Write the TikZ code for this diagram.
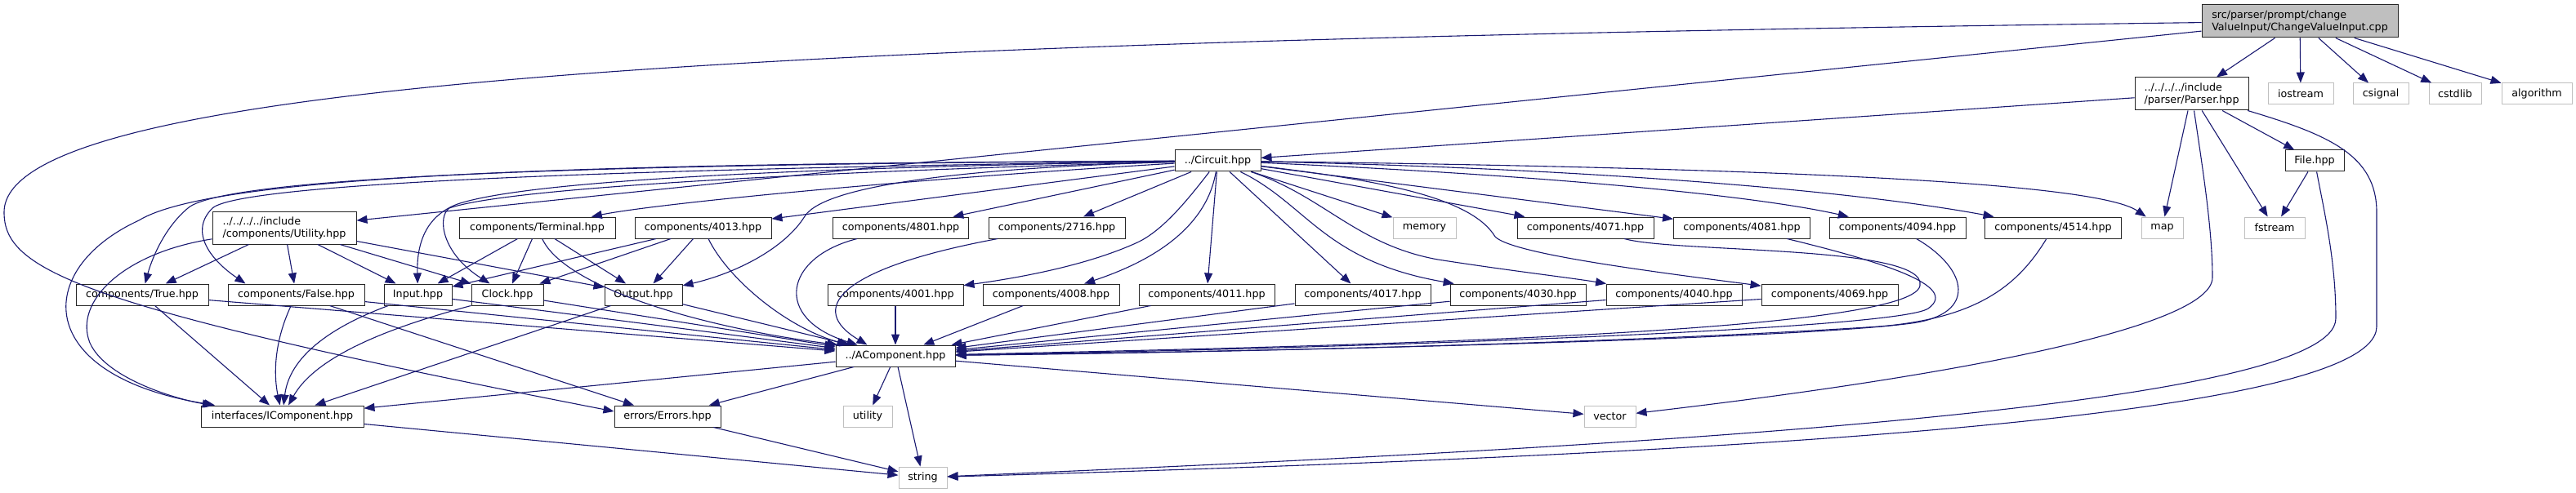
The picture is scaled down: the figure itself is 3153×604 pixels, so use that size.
\documentclass[tikz,border=0pt]{standalone}
\usepackage{fontspec}
\setmainfont{DejaVu Sans}
\usetikzlibrary{arrows.meta}
\definecolor{edgecol}{HTML}{191970}
\definecolor{sysgray}{HTML}{BFBFBF}
\begin{document}
\begin{tikzpicture}[x=1pt,y=-1pt,
  box/.style={draw=black!85, line width=1.0pt, fill=white, inner sep=0pt, minimum height=26pt, font=\fontsize{12.7}{15}\selectfont, text=black, align=left},
  sys/.style={box, draw=sysgray},
  dep/.style={draw=edgecol, line width=1.1pt, -{Triangle[length=13pt,width=10pt]}},
]
\useasboundingbox (0,0) rectangle (3153,604);
% rank 0
\node[box, fill=sysgray, minimum width=240pt, minimum height=40pt] (main) at (2815,26) {src/parser/prompt/change\\ValueInput/ChangeValueInput.cpp};
% rank 1
\node[box, minimum width=139pt, minimum height=40pt] (parser) at (2682.5,115) {../../../../include\\/parser/Parser.hpp};
\node[sys, minimum width=80pt] (iostream) at (2816,115) {iostream};
\node[sys, minimum width=68pt] (csignal) at (2914,115) {csignal};
\node[sys, minimum width=64pt] (cstdlib) at (3005,115) {cstdlib};
\node[sys, minimum width=86pt] (algorithm) at (3105,115) {algorithm};
% rank 2
\node[box, minimum width=105pt] (circuit) at (1490.5,197) {../Circuit.hpp};
\node[box, minimum width=72pt] (file) at (2833,197) {File.hpp};
% rank 3
\node[box, minimum width=176pt, minimum height=40pt] (utilityh) at (348,279) {../../../../include\\/components/Utility.hpp};
\node[box, minimum width=191pt] (terminal) at (657.5,279) {components/Terminal.hpp};
\node[box, minimum width=167pt] (c4013) at (860.5,279) {components/4013.hpp};
\node[box, minimum width=166pt] (c4801) at (1102.5,279) {components/4801.hpp};
\node[box, minimum width=167pt] (c2716) at (1293.5,279) {components/2716.hpp};
\node[sys, minimum width=77pt] (memory) at (1743.5,279) {memory};
\node[box, minimum width=167pt] (c4071) at (1940.5,279) {components/4071.hpp};
\node[box, minimum width=167pt] (c4081) at (2132,279) {components/4081.hpp};
\node[box, minimum width=167pt] (c4094) at (2322.5,279) {components/4094.hpp};
\node[box, minimum width=167pt] (c4514) at (2513,279) {components/4514.hpp};
\node[sys, minimum width=51pt] (map) at (2646.5,279) {map};
\node[sys, minimum width=74pt] (fstream) at (2784,279) {fstream};
% rank 4
\node[box, minimum width=162pt] (truehpp) at (174,361) {components/True.hpp};
\node[box, minimum width=167pt] (falsehpp) at (362.5,361) {components/False.hpp};
\node[box, minimum width=83pt] (input) at (511.5,361) {Input.hpp};
\node[box, minimum width=88pt] (clock) at (621,361) {Clock.hpp};
\node[box, minimum width=95pt] (output) at (787.5,361) {Output.hpp};
\node[box, minimum width=166pt] (c4001) at (1096,361) {components/4001.hpp};
\node[box, minimum width=167pt] (c4008) at (1286.5,361) {components/4008.hpp};
\node[box, minimum width=166pt] (c4011) at (1477,361) {components/4011.hpp};
\node[box, minimum width=166pt] (c4017) at (1668,361) {components/4017.hpp};
\node[box, minimum width=166pt] (c4030) at (1858,361) {components/4030.hpp};
\node[box, minimum width=166pt] (c4040) at (2049,361) {components/4040.hpp};
\node[box, minimum width=167pt] (c4069) at (2239.5,361) {components/4069.hpp};
% rank 5
\node[box, minimum width=146pt] (acomp) at (1096,436) {../AComponent.hpp};
% rank 6
\node[box, minimum width=199pt] (icomp) at (345.5,510) {interfaces/IComponent.hpp};
\node[box, minimum width=130pt] (errors) at (817,510) {errors/Errors.hpp};
\node[sys, minimum width=60pt] (utility) at (1062,510) {utility};
\node[sys, minimum width=63pt] (vector) at (1970.5,510) {vector};
% rank 7
\node[sys, minimum width=59pt] (string) at (1129.5,585) {string};

% ---- edges from main
\draw[dep] (main) -- (parser);
\draw[dep] (main) -- (iostream);
\draw[dep] (main) -- (csignal);
\draw[dep] (main) -- (cstdlib);
\draw[dep] (main) -- (algorithm);
\draw[dep] (main) -- (utilityh);
\draw[dep] (main) .. controls (1000,50) and (5,95) .. (5,260) .. controls (5,330) and (90,375) .. ([yshift=6pt]errors.west);
% ---- edges from Parser
\draw[dep] (parser) -- (circuit);
\draw[dep] (parser) -- (map);
\draw[dep] (parser) -- (fstream);
\draw[dep] (parser) -- (file);
\draw[dep] (parser) .. controls (2850,165) and (2909,190) .. (2909,260) -- (2909,400) .. controls (2909,520) and (2000,560) .. (string);
\draw[dep] (parser) .. controls (2695,200) and (2708,280) .. (2708,340) .. controls (2708,400) and (2400,460) .. (vector);
% ---- edges from File
\draw[dep] (file) -- (fstream);
\draw[dep] (file) .. controls (2845,260) and (2859,320) .. (2859,390) .. controls (2859,500) and (2000,548) .. (string);
% ---- edges from Circuit, right side
\draw[dep] (circuit) -- (c2716);
\draw[dep] (circuit) .. controls (1450,250) and (1420,285) .. (1390,298) .. controls (1330,325) and (1250,340) .. (c4001);
\draw[dep] (circuit) .. controls (1480,260) and (1440,310) .. (c4008);
\draw[dep] (circuit) -- (c4011);
\draw[dep] (circuit) -- (c4017);
\draw[dep] (circuit) .. controls (1600,250) and (1620,320) .. (c4030);
\draw[dep] (circuit) .. controls (1620,240) and (1660,300) .. (1760,318) .. controls (1850,332) and (1920,340) .. (c4040);
\draw[dep] (circuit) .. controls (1680,220) and (1800,240) .. (1830,290) .. controls (1850,310) and (2000,330) .. (c4069);
\draw[dep] (circuit) -- (memory);
\draw[dep] (circuit) -- (c4071);
\draw[dep] (circuit) -- (c4081);
\draw[dep] (circuit) .. controls (1900,215) and (2150,240) .. (c4094);
\draw[dep] (circuit) .. controls (1900,205) and (2250,230) .. (c4514);
\draw[dep] (circuit) .. controls (2100,205) and (2560,220) .. (map);
% ---- edges from Circuit, left side
\draw[dep] (circuit) -- (c4801);
\draw[dep] (circuit) -- (c4013);
\draw[dep] (circuit) .. controls (1100,220) and (800,250) .. (terminal);
\draw[dep] (circuit) .. controls (1200,205) and (1010,225) .. (985,265) .. controls (960,305) and (900,335) .. (output);
\draw[dep] (circuit) .. controls (1000,210) and (620,230) .. (550,255) .. controls (535,265) and (540,310) .. (clock);
\draw[dep] (circuit) .. controls (1000,205) and (650,220) .. (560,250) .. controls (520,265) and (510,300) .. (input);
\draw[dep] (circuit) .. controls (900,205) and (300,220) .. (260,255) .. controls (230,285) and (260,320) .. ([xshift=22pt]falsehpp.north west);
\draw[dep] (circuit) .. controls (900,200) and (280,210) .. (230,255) .. controls (200,280) and (185,320) .. (truehpp);
\draw[dep] (circuit) .. controls (700,200) and (260,215) .. (170,270) .. controls (40,330) and (40,460) .. (icomp);
% ---- Utility
\draw[dep] (utilityh) -- (truehpp);
\draw[dep] (utilityh) -- (falsehpp);
\draw[dep] (utilityh) -- (input);
\draw[dep] (utilityh) -- (clock);
\draw[dep] (utilityh) -- (output);
\draw[dep] (utilityh) .. controls (150,310) and (90,370) .. (110,420) .. controls (130,465) and (220,490) .. (icomp);
% ---- Terminal
\draw[dep] (terminal) -- (input);
\draw[dep] (terminal) -- (clock);
\draw[dep] (terminal) -- (output);
\draw[dep] (terminal) .. controls (690,350) and (850,400) .. ([xshift=3pt]acomp.north west);
% ---- 4013
\draw[dep] (c4013) -- (input);
\draw[dep] (c4013) -- (clock);
\draw[dep] (c4013) -- (output);
\draw[dep] (c4013) .. controls (890,340) and (960,400) .. ([xshift=15pt]acomp.north west);
% ---- 4801, 2716
\draw[dep] (c4801) .. controls (960,315) and (945,390) .. ([xshift=27pt]acomp.north west);
\draw[dep] (c2716) .. controls (1020,330) and (990,380) .. ([xshift=39pt]acomp.north west);
% ---- row E to AComponent
\draw[dep] (c4001) -- (acomp);
\draw[dep] (c4008) -- (acomp);
\draw[dep] (c4011) -- (acomp);
\draw[dep] (c4017) -- (acomp);
\draw[dep] (c4030) -- (acomp);
\draw[dep] (c4040) -- (acomp);
\draw[dep] (c4069) -- (acomp);
% ---- 4071, 4081, 4094, 4514 to AComponent
\draw[dep] (c4071) .. controls (2050,310) and (2360,300) .. (2350,350) .. controls (2340,410) and (1600,425) .. (acomp);
\draw[dep] (c4081) .. controls (2300,320) and (2400,350) .. (2360,378) .. controls (2320,405) and (1600,428) .. (acomp);
\draw[dep] (c4094) .. controls (2410,330) and (2420,385) .. (2340,396) .. controls (2200,415) and (1600,430) .. (acomp);
\draw[dep] (c4514) .. controls (2470,350) and (2420,390) .. (2300,400) .. controls (2000,420) and (1500,432) .. (acomp);
% ---- True, False, Input, Clock, Output
\draw[dep] (truehpp) -- (acomp);
\draw[dep] (truehpp) -- (icomp);
\draw[dep] (falsehpp) -- (acomp);
\draw[dep] (falsehpp) .. controls (335,420) and (335,460) .. (icomp);
\draw[dep] (falsehpp) -- (errors);
\draw[dep] (input) -- (acomp);
\draw[dep] (input) .. controls (420,395) and (355,430) .. (icomp);
\draw[dep] (clock) -- (acomp);
\draw[dep] (clock.south west) .. controls (500,395) and (390,430) .. (icomp);
\draw[dep] (output) -- (acomp);
\draw[dep] (output) -- (icomp);
% ---- AComponent and below
\draw[dep] (acomp) -- (icomp);
\draw[dep] (acomp) -- (errors);
\draw[dep] (acomp) -- (utility);
\draw[dep] (acomp) -- (string);
\draw[dep] (acomp) -- (vector);
\draw[dep] (icomp) -- (string);
\draw[dep] (errors) -- (string);
\end{tikzpicture}
\end{document}
